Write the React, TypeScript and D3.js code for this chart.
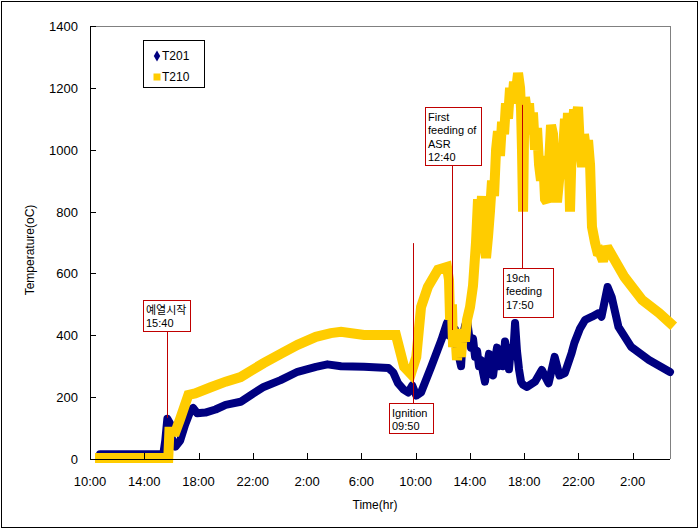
import React from "react";
import * as d3 from "d3";

// hours after 10:00 on day 1
const t201Hours = [0.74, 5.4, 5.55, 5.7, 5.9, 6.0, 6.3, 6.65, 7.0, 7.4, 7.6, 7.9, 8.5, 9.25, 10.0, 11.1, 11.8, 12.8, 14.05, 15.3, 16.65, 17.5, 18.5, 20.2, 22.0, 22.35, 22.7, 23.1, 23.45, 23.75, 24.05, 24.4, 25.15, 25.9,
  26.31, 26.46, 26.61, 26.76, 26.9, 27.05, 27.2, 27.35, 27.49, 27.64, 27.79, 27.94, 28.08, 28.23, 28.38, 28.53, 28.67, 28.82, 28.97, 29.11, 29.26, 29.41, 29.56, 29.71, 29.85, 30.0, 30.15, 30.3, 30.44, 30.59, 30.74, 30.88, 31.03, 31.18, 31.33, 31.47, 31.62, 31.77, 31.92, 32.21,
  32.8, 33.3, 33.8, 34.25, 34.6, 35.0, 35.5, 35.7, 36.1, 36.5, 37.0, 37.5, 37.7, 38.15, 38.45, 38.95, 39.9, 41.2, 42.75];
const t201Values = [15, 15, 60, 130, 115, 70, 40, 60, 110, 155, 165, 148, 150, 160, 175, 185, 205, 233, 255, 282, 298, 306, 300, 298, 294, 280, 245, 225, 215, 238, 205, 215, 298, 385,
  440, 400, 430, 380, 420, 350, 330, 300, 400, 430, 450, 400, 360, 390, 330, 350, 300, 320, 280, 250, 300, 340, 290, 270, 320, 360, 300, 340, 300, 380, 340, 290, 360, 330, 440, 350, 290, 250, 240, 233,
  250, 288, 245, 330, 270, 278, 343, 375, 420, 450, 460, 472, 460, 556, 524, 427, 362, 320, 281];

const t210Hours = [0.74, 5.77, 5.85, 6.3, 6.65, 7.25, 7.75, 8.9, 10.0, 11.1, 12.8, 14.05, 15.3, 16.65, 17.75, 18.5, 20.2, 22.55, 23.15, 23.65, 24.05, 24.4, 24.9, 25.65,
  26.31, 26.46, 26.54, 26.68, 26.76, 26.9, 27.05, 27.2, 27.35, 27.49, 27.64, 27.79, 28.01, 28.23, 28.45, 28.6, 28.75, 28.89, 29.04, 29.19, 29.34, 29.48, 29.63, 29.78, 29.93, 30.07, 30.22, 30.37, 30.52, 30.66, 30.81, 30.96, 31.11, 31.25, 31.4, 31.55, 31.7, 31.77, 31.84, 31.92, 31.99, 32.06,
  32.21, 32.36, 32.51, 32.65, 32.8, 32.95, 33.1, 33.24, 33.39, 33.54, 33.69, 33.83, 33.98, 34.13, 34.28, 34.42, 34.57, 34.72, 34.87, 35.01, 35.16, 35.23, 35.38, 35.53, 35.68, 35.82, 35.97, 36.12, 36.27, 36.41, 36.56, 36.71, 36.86, 37.0, 37.22, 37.45, 37.59, 37.81, 38.11,
  39.4, 40.7, 41.95, 42.75];
const t210Values = [3, 3, 88, 88, 130, 207, 212, 232, 250, 265, 310, 340, 369, 395, 407, 411, 401, 401, 298, 275, 330, 491, 556, 612,
  621, 580, 450, 500, 362, 420, 320, 380, 330, 420, 380, 450, 491, 560, 700, 840, 760, 850, 700, 650, 720, 800, 900, 850, 1000, 1060, 980, 1090, 1050, 1150, 1100, 1200, 1150, 1220, 1190, 1248, 1200, 1130, 1000, 800, 1050, 1170,
  1120, 1150, 1050, 1120, 1000, 1070, 950, 900, 980, 840, 830, 950, 1080, 1050, 900, 830, 900, 950, 1000, 1100, 1050, 1119, 800, 1050, 1130, 1100, 1138, 1000, 944, 1050, 1000, 1031, 950, 750, 700, 660, 666, 640, 686,
  588, 514, 472, 440];

const xTickLabels = ["10:00", "14:00", "18:00", "22:00", "2:00", "6:00", "10:00", "14:00", "18:00", "22:00", "2:00"];
const yTicks = [0, 200, 400, 600, 800, 1000, 1200, 1400];
const seriesNames = ["T201", "T210"];

const annotHours = [5.667, 23.833, 26.667, 31.833];
const annotLineFrom = [133, 181, 417, 617];
const annotLineTo = [417, 698, 950, 1145];
const annotTexts = [["예열시작", "15:40"], ["Ignition", "09:50"], ["First", "feeding of", "ASR", "12:40"], ["19ch", "feeding", "17:50"]];

const boxes = [
  { x: 143, y: 300, w: 47, h: 31 },
  { x: 389, y: 403, w: 44, h: 30 },
  { x: 425, y: 107, w: 56, h: 58 },
  { x: 503, y: 268, w: 50, h: 49 },
];

const W = 699, H = 529;
const L = 90, R = 670, T = 26, B = 459;
const FONT = "'Liberation Sans', Arial, 'Noto Sans CJK KR', sans-serif";

export default function App() {
  const x = d3.scaleLinear().domain([0, 42.75]).range([L, R]);
  const y = d3.scaleLinear().domain([0, 1400]).range([B, T]);
  const line = d3.line<[number, number]>().x(d => x(d[0])).y(d => y(d[1]));
  const s1 = t201Hours.map((h, i) => [h, t201Values[i]] as [number, number]);
  const s2 = t210Hours.map((h, i) => [h, t210Values[i]] as [number, number]);
  const red = "#C00000";
  return (
    <div style={{ position: "absolute", left: 0, top: 0 }}>
      <svg width={W} height={H} style={{ display: "block" }} fontFamily={FONT}>
        <rect x={0} y={0} width={W} height={H} fill="#fff" />
        <rect x={1.5} y={1.5} width={696} height={526} fill="none" stroke="#000" strokeWidth={1} />
        {/* plot frame */}
        <line x1={L} y1={T + 0.5} x2={R + 0.5} y2={T + 0.5} stroke="#808080" />
        <line x1={R + 0.5} y1={T} x2={R + 0.5} y2={B} stroke="#808080" />
        {/* series */}
        <path d={line(s1) || ""} fill="none" stroke="#000080" strokeWidth={8} strokeLinejoin="round" strokeLinecap="round" />
        <path d={line(s2) || ""} fill="none" stroke="#FFCC00" strokeWidth={10} strokeLinejoin="miter" strokeMiterlimit={2} strokeLinecap="square" />
        {/* axes */}
        <line x1={L + 0.5} y1={T} x2={L + 0.5} y2={B} stroke="#000" />
        <line x1={L} y1={B + 0.5} x2={R} y2={B + 0.5} stroke="#000" />
        {yTicks.map(v => (
          <g key={v}>
            <line x1={L} x2={L + 6} y1={Math.round(y(v)) + 0.5} y2={Math.round(y(v)) + 0.5} stroke="#000" />
            <text x={78} y={y(v) + 5} fontSize={13} textAnchor="end">{v}</text>
          </g>
        ))}
        {xTickLabels.map((lab, i) => (
          <g key={i}>
            {i > 0 && <line x1={Math.round(x(i * 4)) + 0.5} x2={Math.round(x(i * 4)) + 0.5} y1={B - 6} y2={B} stroke="#000" />}
            <text x={x(i * 4)} y={486} fontSize={13} textAnchor="middle">{lab}</text>
          </g>
        ))}
        <text x={(L + R) / 2 - 5} y={509} fontSize={12} textAnchor="middle">Time(hr)</text>
        <text transform={`translate(34,250) rotate(-90)`} fontSize={12} textAnchor="middle">Temperature(oC)</text>
        {/* legend */}
        <rect x={143.5} y={40.5} width={61} height={47} fill="#fff" stroke="#000" />
        <path d={d3.symbol(d3.symbolDiamond, 36)() || ""} transform="translate(157,56)" fill="#000080" />
        <rect x={153.5} y={73.5} width={7} height={7} fill="#FFCC00" />
        <text x={162} y={60} fontSize={12}>{seriesNames[0]}</text>
        <text x={162} y={81} fontSize={12}>{seriesNames[1]}</text>
        {/* annotations */}
        {annotHours.map((h, i) => {
          const b = boxes[i];
          const lx = Math.round(x(h)) + 0.5;
          return (
            <g key={i}>
              <line x1={lx} x2={lx} y1={y(annotLineFrom[i])} y2={y(annotLineTo[i])} stroke={red} strokeWidth={1} />
              <rect x={b.x + 0.5} y={b.y + 0.5} width={b.w} height={b.h} fill="#fff" stroke={red} />
              {annotTexts[i].map((s, j) => (
                <text key={j} x={b.x + 3} y={b.y + 14 + j * 13.3} fontSize={11}>{s}</text>
              ))}
            </g>
          );
        })}
      </svg>
    </div>
  );
}
